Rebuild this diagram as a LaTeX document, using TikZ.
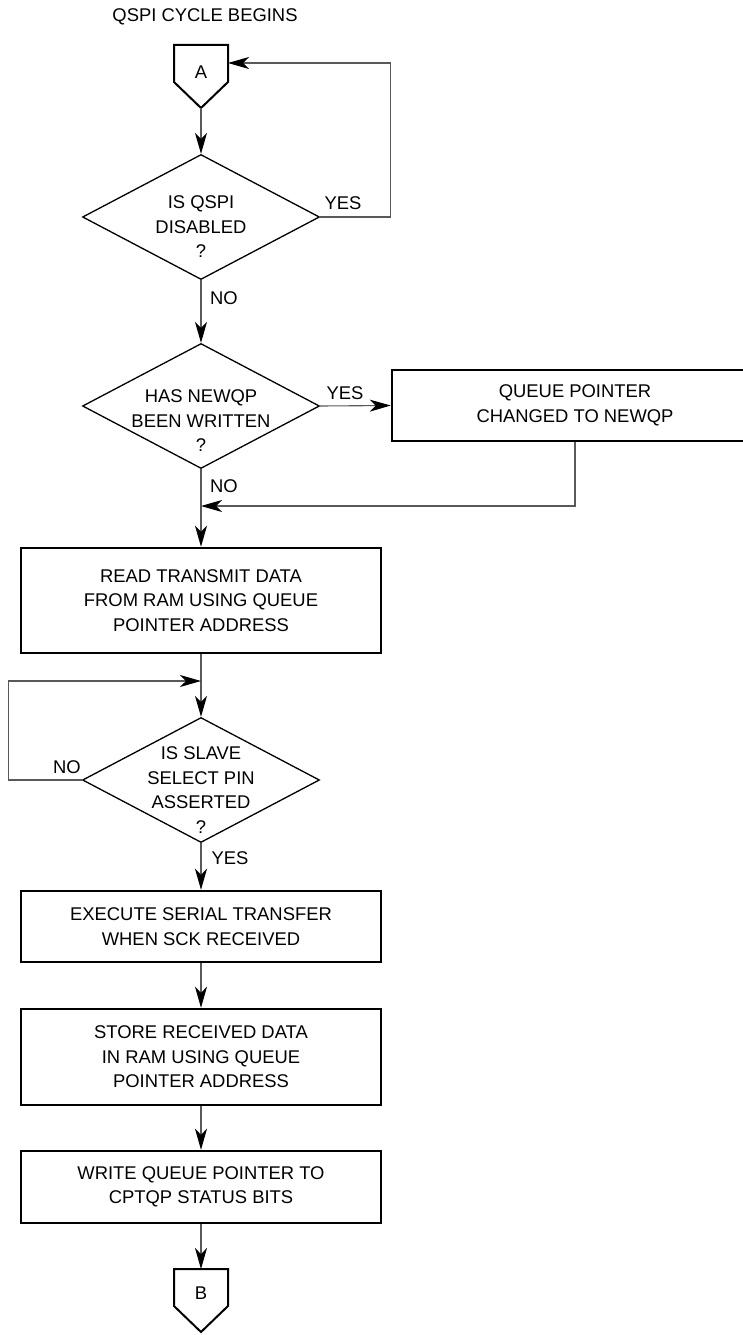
\documentclass[tikz,border=0pt]{standalone}
\usepackage{fontspec}
\setmainfont{Liberation Sans}
\usepackage{tikz}
\usetikzlibrary{shapes,arrows.meta,positioning}

\begin{document}
\begin{tikzpicture}[x=1pt,y=-1pt,
    every node/.style={font=\fontsize{18.4}{24.5}\selectfont, inner sep=0pt},
    procbox/.style={draw, line width=2.5pt, rectangle, align=center, minimum width=360pt},
    decision/.style={draw, line width=1.3pt, diamond, minimum width=237pt, minimum height=125pt},
    dtext/.style={align=center},
    flowarrow/.style={draw=black!65, line width=1.1pt, -{Stealth[length=21pt,width=12pt,inset=6pt,color=black]}},
    conline/.style={line width=2pt, line join=miter}]
  \useasboundingbox (0,0) rectangle (743,1335);
  \clip (0,0) rectangle (743,1335);

  %% Start of the cycle
    % connector A with its title above
    \node (title) at (205,17) {QSPI CYCLE BEGINS};
    \draw[conline] (174,45) -- (228,45) -- (228,82) -- (201,108) -- (174,82) -- cycle;
    \node (conA) at (201,72) {A};
    \coordinate (Abot) at (201,108);
    \coordinate (Aright) at (228,63);

  %% Decisions and steps
    \node[decision] (dis) at (201,217) {};
    \node[dtext] (distxt) at (201,227) {IS QSPI\\DISABLED\\?};
    \node[decision] (nqp) at (201,406) {};
    \node[dtext] (nqptxt) at (201,421) {HAS NEWQP\\BEEN WRITTEN\\?};
    \node[procbox, minimum width=366pt, minimum height=71pt] (qptr) at (575,405.5) {QUEUE POINTER\\CHANGED TO NEWQP};
    \node[procbox, minimum height=105pt] (rdtx) at (201,600.5) {READ TRANSMIT DATA\\FROM RAM USING QUEUE\\POINTER ADDRESS};
    \node[decision] (ss) at (201,780) {};
    \node[dtext] (sstxt) at (201,790) {IS SLAVE\\SELECT PIN\\ASSERTED\\?};
    \node[procbox, minimum height=71pt] (exe) at (201,926.5) {EXECUTE SERIAL TRANSFER\\WHEN SCK RECEIVED};
    \node[procbox, minimum height=96pt] (store) at (201,1057) {STORE RECEIVED DATA\\IN RAM USING QUEUE\\POINTER ADDRESS};
    \node[procbox, minimum height=72pt] (wrq) at (201,1187) {WRITE QUEUE POINTER TO\\CPTQP STATUS BITS};

  %% End of the cycle
    % connector B
    \draw[conline] (174,1269) -- (228,1269) -- (228,1306) -- (201,1332) -- (174,1306) -- cycle;
    \node (conB) at (201,1293) {B};
    \coordinate (Btop) at (201,1269);

  %% Branch labels
    \node (yes1) at (343,203) {YES};
    \node (no1) at (224,298) {NO};
    \node (yes2) at (345,393) {YES};
    \node (no2) at (224,486) {NO};
    \node (no3) at (67,767) {NO};
    \node (yes3) at (230,858) {YES};

  %% Connectors
    \coordinate (merge) at (201,506);
    \coordinate (retry) at (201,681);
    \draw[flowarrow] (Abot) -- (dis.north);
    \draw[flowarrow] (dis.east) -- ++(70,0) |- (Aright);
    \draw[flowarrow] (dis.south) -- (nqp.north);
    \draw[flowarrow] (nqp.east) -- (qptr.west);
    \draw[flowarrow] (qptr.south) |- (merge);
    \draw[flowarrow] (nqp.south) -- (rdtx.north);
    \draw[flowarrow] (rdtx.south) -- (ss.north);
    \draw[flowarrow] (ss.west) -- ++(-73,0) |- (retry);
    \draw[flowarrow] (ss.south) -- (exe.north);
    \draw[flowarrow] (exe.south) -- (store.north);
    \draw[flowarrow] (store.south) -- (wrq.north);
    \draw[flowarrow] (wrq.south) -- (Btop);
\end{tikzpicture}
\end{document}
